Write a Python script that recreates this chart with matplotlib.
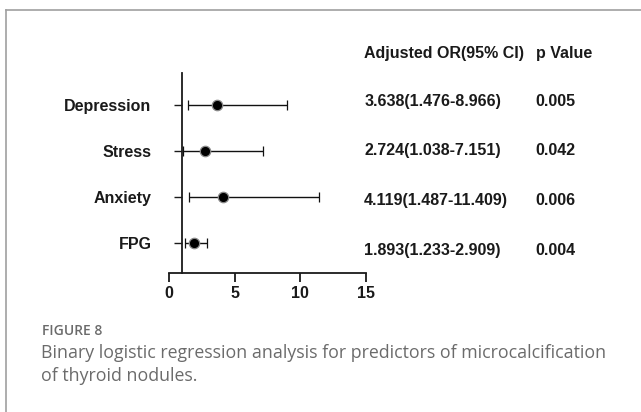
import numpy as np
import matplotlib
matplotlib.use("Agg")
import matplotlib.pyplot as plt
from matplotlib.lines import Line2D
from matplotlib.transforms import blended_transform_factory

# data
factors = ['Depression', 'Stress', 'Anxiety', 'FPG']
odds_ratio = np.array([3.638, 2.724, 4.119, 1.893])
ci_low = np.array([1.476, 1.038, 1.487, 1.233])
ci_high = np.array([8.966, 7.151, 11.409, 2.909])
p_values = ['0.005', '0.042', '0.006', '0.004']
or_labels = ['3.638(1.476-8.966)', '2.724(1.038-7.151)',
             '4.119(1.487-11.409)', '1.893(1.233-2.909)']
x_ticks = [0, 5, 10, 15]

plt.rcParams['font.family'] = ['Liberation Sans', 'DejaVu Sans']

fig = plt.figure(figsize=(6.41, 4.12), dpi=100)
ax = fig.add_axes([0.2637, 0.3381, 0.3069, 0.484])

ypos = np.arange(len(factors), 0, -1)  # Depression on top
ax.errorbar(odds_ratio, ypos, xerr=[odds_ratio - ci_low, ci_high - odds_ratio],
            fmt='o', color='black', ecolor='#111111', elinewidth=1.0,
            capsize=3.3, capthick=1.0, markersize=7.5, markeredgecolor='#8a8a8a',
            markeredgewidth=0.9, zorder=3)

ax.set_xlim(0, 15)
ax.set_ylim(0.35, 4.69)
ax.set_xticks(x_ticks)
ax.set_yticks(ypos)
ax.set_yticklabels(factors)

for side in ['top', 'right']:
    ax.spines[side].set_visible(False)
ax.spines['left'].set_position(('data', 1))
for side in ['left', 'bottom']:
    ax.spines[side].set_linewidth(1.3)
    ax.spines[side].set_color('#1a1a1a')

ax.tick_params(axis='x', direction='out', length=6.5, width=1.3, pad=3.3,
               labelsize=11.5, colors='#1a1a1a')
ax.tick_params(axis='y', direction='out', length=6, width=1.0, pad=16,
               labelsize=11.5, colors='#1a1a1a')
for lab in ax.get_xticklabels() + ax.get_yticklabels():
    lab.set_fontweight('bold')

# table on the right
tr = blended_transform_factory(fig.transFigure, ax.transData)
text_offset = [0.07, 0.0, -0.07, -0.16]
ax.text(0.568, 5.126, 'Adjusted OR(95% CI)', transform=tr, fontsize=11.5,
        fontweight='bold', va='center', ha='left', color='#1a1a1a', clip_on=False)
ax.text(0.8357, 5.126, 'p Value', transform=tr, fontsize=11.5,
        fontweight='bold', va='center', ha='left', color='#1a1a1a', clip_on=False)
for i in range(len(factors)):
    yy = ypos[i] + text_offset[i]
    ax.text(0.568, yy, or_labels[i], transform=tr, fontsize=11.5,
            fontweight='bold', va='center', ha='left', color='#1a1a1a', clip_on=False)
    ax.text(0.8357, yy, p_values[i], transform=tr, fontsize=11.5,
            fontweight='bold', va='center', ha='left', color='#1a1a1a', clip_on=False)

# frame lines of the figure box
W, H = 641.0, 412.0
fig.add_artist(Line2D([6 / W, 1], [1 - 9.5 / H, 1 - 9.5 / H],
                      transform=fig.transFigure, color='#a0a0a0', lw=1.2))
fig.add_artist(Line2D([6 / W, 6 / W], [0, 1 - 9.5 / H],
                      transform=fig.transFigure, color='#a0a0a0', lw=1.2))

# caption
fig.text(42 / W, 1 - 331 / H, 'FIGURE 8', fontsize=10, color='#6b6b6b',
         family='Open Sans', fontweight='semibold', va='center', ha='left')
fig.text(41 / W, 1 - 353 / H,
         'Binary logistic regression analysis for predictors of microcalcification',
         fontsize=12.8, color='#6b6b6b', family='Open Sans', va='center', ha='left')
fig.text(41 / W, 1 - 376 / H, 'of thyroid nodules.',
         fontsize=12.8, color='#6b6b6b', family='Open Sans', va='center', ha='left')

fig.savefig('out.png', dpi=100, facecolor='white')
